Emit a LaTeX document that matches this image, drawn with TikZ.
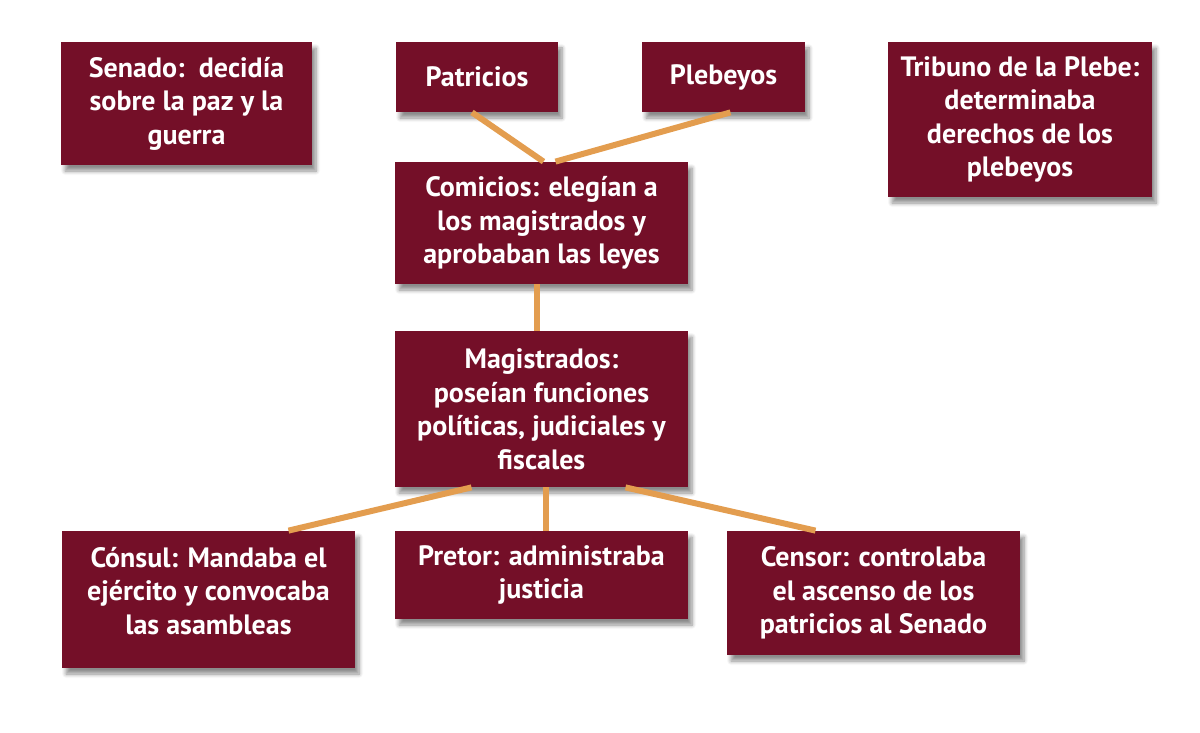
\documentclass[tikz,border=0pt]{standalone}
\usepackage{fontspec}
\setmainfont{PT Sans}
\usepackage{tikz}
\usetikzlibrary{calc,shadows.blur}

\definecolor{vino}{HTML}{740F28}
\definecolor{naranja}{HTML}{E39D4F}

\tikzset{
  caja/.style={fill=vino, text=white, align=center, inner sep=0pt,
    font=\fontsize{14}{16.75}\selectfont\bfseries,
    blur shadow={shadow xshift=2pt, shadow yshift=-3pt, shadow blur steps=6, shadow opacity=45}},
  enlace/.style={draw=naranja, line width=3pt}
}

\begin{document}
\begin{tikzpicture}[x=0.5pt, y=-0.5pt]
    \useasboundingbox (0,0) rectangle (1200,733);
    % fila superior
    \node[caja, minimum width=125.5pt, minimum height=61.5pt] (senado) at (186.5,103.5) {Senado:\ \ decidía\\sobre la paz y la\\guerra};
    \node[caja, minimum width=81pt, minimum height=35pt] (patricios) at (477,77) {Patricios};
    \node[caja, minimum width=81.5pt, minimum height=35pt] (plebeyos) at (723.5,77) {Plebeyos};
    \node[caja, minimum width=132pt, minimum height=77.5pt] (tribuno) at (1020,119.5) {Tribuno de la Plebe:\\determinaba\\derechos de los\\plebeyos};
    % centro
    \node[caja, minimum width=146.5pt, minimum height=61pt] (comicios) at (541.5,223) {Comicios: elegían a\\los magistrados y\\aprobaban las leyes};
    \node[caja, minimum width=146.5pt, minimum height=78pt] (magistrados) at (541.5,409) {Magistrados:\\poseían funciones\\políticas, judiciales y\\fiscales};
    % fila inferior
    \node[caja, minimum width=146.5pt, minimum height=68.5pt] (consul) at (208.5,599.5) {Cónsul: Mandaba el\\ejército y convocaba\\las asambleas\\[-8pt]};
    \node[caja, minimum width=146.5pt, minimum height=44pt] (pretor) at (541.5,575) {Pretor: administraba\\justicia};
    \node[caja, minimum width=146.5pt, minimum height=62pt] (censor) at (873.5,593) {Censor: controlaba\\el ascenso de los\\patricios al Senado};

    \draw[enlace] ([xshift=-2.5pt]patricios.south) -- ([xshift=1pt]comicios.north);
    \draw[enlace] ([xshift=3.5pt]plebeyos.south) -- ([xshift=7pt]comicios.north);
    \draw[enlace] ([xshift=-2.5pt]comicios.south) -- ([xshift=-2.5pt]magistrados.north);
    \draw[enlace] ([xshift=-35pt]magistrados.south) -- ([xshift=40pt]consul.north);
    \draw[enlace] ([xshift=2.25pt]magistrados.south) -- ([xshift=2.25pt]pretor.north);
    \draw[enlace] ([xshift=42pt]magistrados.south) -- ([xshift=-29pt]censor.north);
\end{tikzpicture}
\end{document}
